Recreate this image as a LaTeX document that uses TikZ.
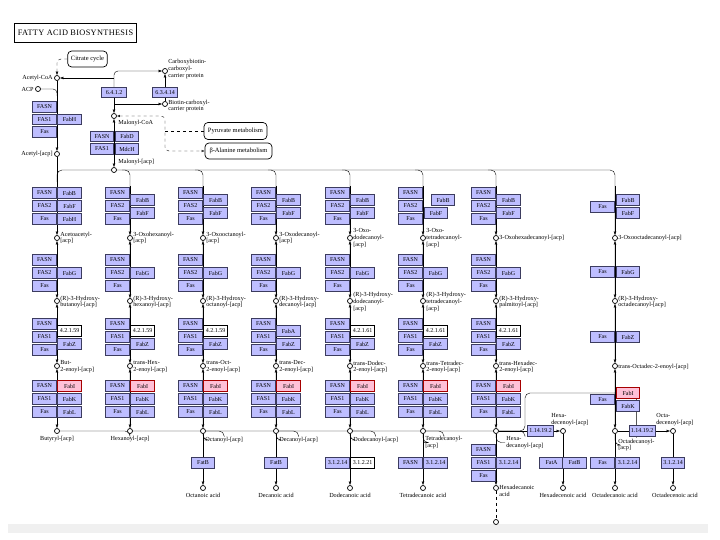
\documentclass[tikz,border=0pt]{standalone}
\usepackage{fontspec}
\setmainfont{Liberation Serif}
\usetikzlibrary{arrows.meta,backgrounds}
\definecolor{keggblue}{RGB}{190,190,255}
\definecolor{keggpink}{RGB}{255,192,215}
\definecolor{keggedge}{RGB}{60,60,95}

\begin{document}
\begin{tikzpicture}[x=1pt,y=-1pt,line width=0.7pt]
        \tikzstyle{enz} = [rectangle, draw=keggedge, fill=keggblue, minimum width=23.5pt, minimum height=10.5pt, inner sep=0pt, font=\fontsize{6}{6.5}\selectfont]
        \tikzstyle{enzw} = [enz, draw=black, fill=white]
        \tikzstyle{enzp} = [enz, draw=red!65!black, fill=keggpink]
        \tikzstyle{cpd} = [circle, draw, fill=white, inner sep=0pt, minimum size=5pt]
        \tikzstyle{lbl} = [anchor=west, align=left, inner sep=1pt, font=\fontsize{6.2}{6.8}\selectfont]
        \tikzstyle{mapa} = [rectangle, rounded corners=4pt, draw, font=\fontsize{6.5}{7}\selectfont]
        \tikzstyle{seta} = [-{Latex[length=3.5pt,width=2.8pt]}]
        \tikzstyle{setas} = [{Latex[length=3.5pt,width=2.8pt]}-{Latex[length=3.5pt,width=2.8pt]}]
        \tikzstyle{setaab} = [{Latex[open,length=3pt,width=2.6pt]}-{Latex[open,length=3pt,width=2.6pt]}]

        \useasboundingbox (0,0) rectangle (720,540);
        \fill[gray!12] (8,524) rectangle (708,533);

        \node[draw, minimum width=109pt, minimum height=19pt, font=\fontsize{8.3}{9}\selectfont\addfontfeatures{LetterSpace=4}] (titulo) at (75.5,32.5) {FATTY ACID BIOSYNTHESIS};

        \node[mapa, minimum width=39pt, minimum height=16pt] (citrato) at (87.5,59) {Citrate cycle};
        \node[cpd] (acoa) at (57,78) {};
        \node[lbl, anchor=east] (lacoa) at (54,78) {Acetyl-CoA};
        \node[cpd] (acp) at (38,89) {};
        \node[lbl, anchor=east] (lacp) at (35,89) {ACP};
        \coordinate (acpj) at (57,96);
        \node[enz] (fasn0) at (44.5,107) {FASN};
        \node[enz] (fas10) at (44.5,119.5) {FAS1};
        \node[enz] (fas0) at (44.5,132) {Fas};
        \node[enz] (fabh0) at (69.5,119.5) {FabH};
        \node[cpd] (aacp) at (57,154) {};
        \node[lbl, anchor=east] (laacp) at (54,154) {Acetyl-[acp]};

        \node[enz, minimum width=25pt] (e6412) at (114,92.5) {6.4.1.2};
        \node[enz, minimum width=25pt] (e63414) at (165,92.5) {6.3.4.14};
        \node[cpd] (ccp) at (165,71) {};
        \node[lbl] (lccp) at (167,69) {Carboxybiotin-\\carboxyl-\\carrier protein};
        \node[cpd] (bcp) at (165,104) {};
        \node[lbl] (lbcp) at (167,106) {Biotin-carboxyl-\\carrier protein};
        \coordinate (j1) at (114,78);
        \coordinate (j2) at (114,104);
        \node[cpd] (mcoa) at (114,116) {};
        \node[lbl] (lmcoa) at (117,123) {Malonyl-CoA};
        \node[enz] (fasn00) at (102,136.5) {FASN};
        \node[enz] (fabd) at (127,136.5) {FabD};
        \node[enz] (fas100) at (102,149) {FAS1};
        \node[enz] (mdch) at (127,149) {MdcH};
        \node[cpd] (mcp) at (114,170) {};
        \node[lbl] (lmcp) at (117,162) {Malonyl-[acp]};
        \node[mapa, minimum width=63pt, minimum height=17pt] (piruvato) at (235.5,131) {Pyruvate metabolism};
        \node[mapa, minimum width=67pt, minimum height=16pt] (alanina) at (238.5,151) {β-Alanine metabolism};
        \coordinate (j3) at (165,140);
        \coordinate (j4) at (165,131);

        \foreach \k/\x in {1/57,2/130,3/203,4/276,5/350,6/423,7/496} {
            \foreach \r/\y/\b in {1/193/FAS2, 2/260/FAS2, 3/324/FAS1, 4/386/FAS1} {
                \node[enz] (l\k-\r-1) at (\x-12.5,\y) {FASN};
                \node[enz] (l\k-\r-2) at (\x-12.5,\y+13) {\b};
                \node[enz] (l\k-\r-3) at (\x-12.5,\y+26) {Fas};
            }
            \node[enz] (fabg\k) at (\x+12.5,273) {FabG};
            \node[enz] (fabz\k) at (\x+12.5,344) {FabZ};
            \node[enzp] (fabi\k) at (\x+12.5,386) {FabI};
            \node[enz] (fabk\k) at (\x+12.5,399) {FabK};
            \node[enz] (fabl\k) at (\x+12.5,412) {FabL};
        }
        \node[enz] (fabb1) at (69.5,193) {FabB};
        \node[enz] (fabf1) at (69.5,206) {FabF};
        \node[enz] (fabh1) at (69.5,219) {FabH};
        \foreach \k/\bx/\fx in {2/142.5/142.5, 3/215.5/215.5, 4/288.5/288.5, 5/362.5/362.5, 6/443/436, 7/508.5/508.5} {
            \node[enz] (fabb\k) at (\bx,200) {FabB};
            \node[enz] (fabf\k) at (\fx,213) {FabF};
        }
        \foreach \k/\x/\e/\s in {1/57/4.2.1.59/enzw, 2/130/4.2.1.59/enzw, 3/203/4.2.1.59/enzw, 4/276/FabA/enz, 5/350/4.2.1.61/enzw, 6/423/4.2.1.61/enzw, 7/496/4.2.1.61/enzw} {
            \node[\s] (dh\k) at (\x+12.5,331) {\e};
        }

        \node[enz] (fas8a) at (602.5,207) {Fas};
        \node[enz] (fabb8) at (628,200) {FabB};
        \node[enz] (fabf8) at (628,213) {FabF};
        \node[enz] (fas8b) at (602.5,272) {Fas};
        \node[enz] (fabg8) at (628,272) {FabG};
        \node[enz] (fas8c) at (602.5,337) {Fas};
        \node[enz] (fabz8) at (628,337) {FabZ};
        \node[enz] (fas8d) at (602.5,399.5) {Fas};
        \node[enzp] (fabi8) at (628,393) {FabI};
        \node[enz] (fabk8) at (628,406) {FabK};

        \foreach \k/\x/\la/\lb/\lc in {
            1/57/{Acetoacetyl-\\{}[acp]}/{(R)-3-Hydroxy-\\butanoyl-[acp]}/{But-\\2-enoyl-[acp]},
            2/130/{3-Oxohexanoyl-\\{}[acp]}/{(R)-3-Hydroxy-\\hexanoyl-[acp]}/{trans-Hex-\\2-enoyl-[acp]},
            3/203/{3-Oxooctanoyl-\\{}[acp]}/{(R)-3-Hydroxy-\\octanoyl-[acp]}/{trans-Oct-\\2-enoyl-[acp]},
            4/276/{3-Oxodecanoyl-\\{}[acp]}/{(R)-3-Hydroxy-\\decanoyl-[acp]}/{trans-Dec-\\2-enoyl-[acp]},
            5/350/{3-Oxo-\\dodecanoyl-\\{}[acp]}/{(R)-3-Hydroxy-\\dodecanoyl-\\{}[acp]}/{trans-Dodec-\\2-enoyl-[acp]},
            6/423/{3-Oxo-\\tetradecanoyl-\\{}[acp]}/{(R)-3-Hydroxy-\\tetradecanoyl-\\{}[acp]}/{trans-Tetradec-\\2-enoyl-[acp]},
            7/496/{3-Oxohexadecanoyl-[acp]}/{(R)-3-Hydroxy-\\palmitoyl-[acp]}/{trans-Hexadec-\\2-enoyl-[acp]},
            8/615/{3-Oxooctadecanoyl-[acp]}/{(R)-3-Hydroxy-\\octadecanoyl-[acp]}/{trans-Octadec-2-enoyl-[acp]}
        } {
            \node[cpd] (c\k-1) at (\x,238) {};
            \node[lbl] (lc\k-1) at (\x+2,238) {\la};
            \node[cpd] (c\k-2) at (\x,301) {};
            \node[lbl] (lc\k-2) at (\x+2,302) {\lb};
            \node[cpd] (c\k-3) at (\x,366) {};
            \node[lbl] (lc\k-3) at (\x+2,367) {\lc};
            \node[cpd] (p\k) at (\x,431) {};
            \coordinate (t\k) at (\x,186);
            \coordinate (mq\k) at (\x-8,170);
        }
        \coordinate (t1) at (57,182);
        \coordinate (mq1) at (57,170);
        \coordinate (mq8) at (615,170);
        \foreach \k/\x in {2/101,3/174,4/247,5/320,6/394,7/467,8/570} {
            \coordinate (lp\k) at (\x,178);
        }
        \coordinate (lq) at (525,393);

        \node[lbl, anchor=north] (lp1) at (57,435) {Butyryl-[acp]};
        \node[lbl, anchor=north] (lp2) at (130,435) {Hexanoyl-[acp]};
        \node[lbl] (lp3) at (204,440) {Octanoyl-[acp]};
        \node[lbl] (lp4) at (278,440) {Decanoyl-[acp]};
        \node[lbl] (lp5) at (352,440) {Dodecanoyl-[acp]};
        \node[lbl, anchor=north west] (lp6) at (424,435) {Tetradecanoyl-\\{}[acp]};
        \node[lbl, anchor=north west] (lp7) at (505,435) {Hexa-\\decanoyl-[acp]};
        \node[lbl, anchor=north west] (lp8) at (617,437.5) {Octadecanoyl-\\{}[acp]};

        \foreach \k/\x/\n in {3/203/Octanoic acid, 4/276/Decanoic acid, 5/350/Dodecanoic acid, 6/423/Tetradecanoic acid, 8/615/Octadecanoic acid} {
            \node[cpd] (a\k) at (\x,488) {};
            \node[lbl, anchor=north] (la\k) at (\x,492) {\n};
        }
        \node[cpd] (a7) at (496,488) {};
        \node[lbl, anchor=north west] (la7) at (498,484) {Hexadecanoic\\acid};
        \node[cpd] (fim) at (496,522) {};

        \node[enz] (fatb3) at (203,463) {FatB};
        \node[enz] (fatb4) at (276,463) {FatB};
        \node[enz] (te5) at (337.5,463) {3.1.2.14};
        \node[enzw] (te5b) at (362.5,463) {3.1.2.21};
        \node[enz] (fasn6) at (410.5,463) {FASN};
        \node[enz] (te6) at (435.5,463) {3.1.2.14};
        \node[enz] (fasn7) at (483.5,450) {FASN};
        \node[enz] (fas17) at (483.5,463) {FAS1};
        \node[enz] (fas7) at (483.5,476) {Fas};
        \node[enz] (te7) at (508.5,463) {3.1.2.14};
        \node[enz] (fas8e) at (602.5,463) {Fas};
        \node[enz] (te8) at (627.5,463) {3.1.2.14};

        \node[enz, minimum width=26pt] (des16) at (540.5,431) {1.14.19.2};
        \node[cpd] (hd) at (563,431) {};
        \node[lbl, anchor=south west] (lhd) at (550,427) {Hexa-\\decenoyl-[acp]};
        \node[enz] (fata16) at (551.5,463) {FatA};
        \node[enz] (fatb16) at (574.5,463) {FatB};
        \node[cpd] (hda) at (563,488) {};
        \node[lbl, anchor=north] (lhda) at (563,492) {Hexadecenoic acid};

        \node[enz, minimum width=26pt] (des18) at (642,431) {1.14.19.2};
        \node[cpd] (od) at (673,431) {};
        \node[lbl, anchor=south west] (lod) at (655,427) {Octa-\\decenoyl-[acp]};
        \node[enz] (te18) at (673,463) {3.1.2.14};
        \node[cpd] (oda) at (673,488) {};
        \node[lbl, anchor=north] (loda) at (675,492) {Octadecenoic acid};

        \begin{scope}[on background layer]
            \draw[dashed, seta, rounded corners=4pt] (citrato) -| (acoa);
            \draw[seta] (acoa) -- (aacp);
            \draw[rounded corners=4pt] (acp) -| (acpj);
            \draw[seta, rounded corners=4pt] (e6412) |- (ccp);
            \draw[seta] (e6412) -- (mcoa);
            \draw[seta] (j1) -- (acoa);
            \draw[seta] (j2) -- (bcp);
            \draw[seta] (bcp) -- (ccp);
            \draw[setas] (mcoa) -- (mcp);
            \draw[dashed, setaab, rounded corners=4pt] (mcoa) -| (j3) |- (alanina);
            \draw[dashed] (j4) -- (piruvato);

            \draw[rounded corners=5pt] (t1) -- (mq1) -- (mq8) -- (t8);
            \foreach \k in {2,...,7} {
                \draw[rounded corners=5pt] (mq\k) -| (t\k);
            }
            \foreach \j/\k in {1/2,2/3,3/4,4/5,5/6,6/7} {
                \draw[rounded corners=5pt] (p\j) -| (lp\k) -| (t\k);
            }
            \draw[rounded corners=5pt] (p7) -| (lq) -| (lp8) -| (t8);

            \draw[seta] (aacp) -- (c1-1);
            \foreach \k in {2,...,8} {
                \draw[seta] (t\k) -- (c\k-1);
            }
            \foreach \k in {1,...,8} {
                \draw[setas] (c\k-1) -- (c\k-2);
                \draw[setas] (c\k-2) -- (c\k-3);
                \draw[setas] (c\k-3) -- (p\k);
            }
            \foreach \k in {3,...,8} {
                \draw[seta] (p\k) -- (a\k);
            }
            \draw[seta] (p7) -- (hd);
            \draw[seta] (hd) -- (hda);
            \draw[seta] (p8) -- (od);
            \draw[seta] (od) -- (oda);
            \draw[dashed] (a7) -- (fim);
        \end{scope}
    \end{tikzpicture}
\end{document}
